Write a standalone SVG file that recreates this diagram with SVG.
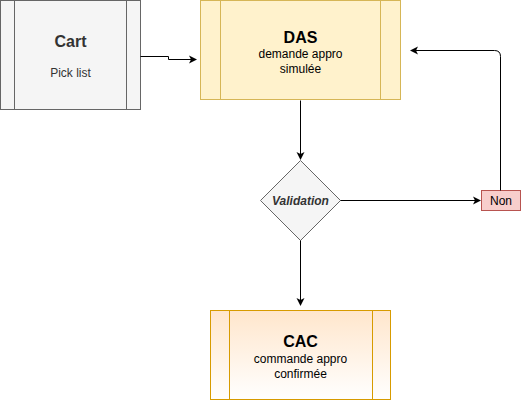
<svg xmlns="http://www.w3.org/2000/svg" width="521" height="401" viewBox="0 0 521 401">
<defs>
<linearGradient id="g" x1="0" y1="0" x2="0" y2="1"><stop offset="0" stop-color="#ffe6cc"/><stop offset="1" stop-color="#ffffff"/></linearGradient>
<marker id="a" markerWidth="10" markerHeight="10" refX="8" refY="5" orient="auto" markerUnits="userSpaceOnUse"><path d="M1,1 L9,5 L1,9 L3,5 Z" fill="#000"/></marker>
<style>
text{font-family:"Liberation Sans",Arial,sans-serif;text-anchor:middle}
.t{font-size:16px;font-weight:bold}
.s{font-size:12px}
.e{fill:none;stroke:#000;stroke-width:1}
</style>
</defs>
<g id="cart">
<rect x="0.5" y="0.5" width="140" height="109" fill="#f5f5f5" stroke="#666"/>
<line x1="14.5" y1="0.5" x2="14.5" y2="109.5" stroke="#666"/>
<line x1="126.5" y1="0.5" x2="126.5" y2="109.5" stroke="#666"/>
<text x="70.5" y="47" class="t" fill="#333">Cart</text>
<text x="70.5" y="77" class="s" fill="#333">Pick list</text>
</g>
<g id="das">
<rect x="200.5" y="0.5" width="200" height="99" fill="#fff2cc" stroke="#d6b656"/>
<line x1="220.5" y1="0.5" x2="220.5" y2="99.5" stroke="#d6b656"/>
<line x1="380.5" y1="0.5" x2="380.5" y2="99.5" stroke="#d6b656"/>
<text x="300.5" y="43" class="t">DAS</text>
<text x="300.5" y="58" class="s">demande appro</text>
<text x="300.5" y="73" class="s">simulée</text>
</g>
<g id="validation">
<path d="M300.5,160.5 L340.5,200.5 L300.5,240.5 L260.5,200.5 Z" fill="#f5f5f5" stroke="#666"/>
<text x="300.5" y="205" font-size="12" font-weight="bold" font-style="italic" fill="#333">Validation</text>
</g>
<g id="non">
<rect x="481.5" y="190.5" width="39" height="20" fill="#f8cecc" stroke="#b85450"/>
<text x="501" y="205" font-size="12">Non</text>
</g>
<g id="cac">
<rect x="210.5" y="310.5" width="180" height="89" fill="url(#g)" stroke="#d79b00"/>
<line x1="229.5" y1="310.5" x2="229.5" y2="399.5" stroke="#d79b00"/>
<line x1="372.5" y1="310.5" x2="372.5" y2="399.5" stroke="#d79b00"/>
<text x="300.5" y="347" class="t">CAC</text>
<text x="300.5" y="363" class="s">commande appro</text>
<text x="300.5" y="378" class="s">confirmée</text>
</g>
<g id="connectors">
<path class="e" d="M140.5,56.5 L168.5,56.5 L168.5,59.5 L196,59.5" marker-end="url(#a)"/>
<path class="e" d="M300.5,100.5 L300.5,159" marker-end="url(#a)"/>
<path class="e" d="M340.5,200.5 L480,200.5" marker-end="url(#a)"/>
<path class="e" d="M500.5,190.5 L500.5,56.5 Q500.5,50.5 494.5,50.5 L411,50.5" marker-end="url(#a)"/>
<path class="e" d="M300.5,240.5 L300.5,305" marker-end="url(#a)"/>
</g>
</svg>
